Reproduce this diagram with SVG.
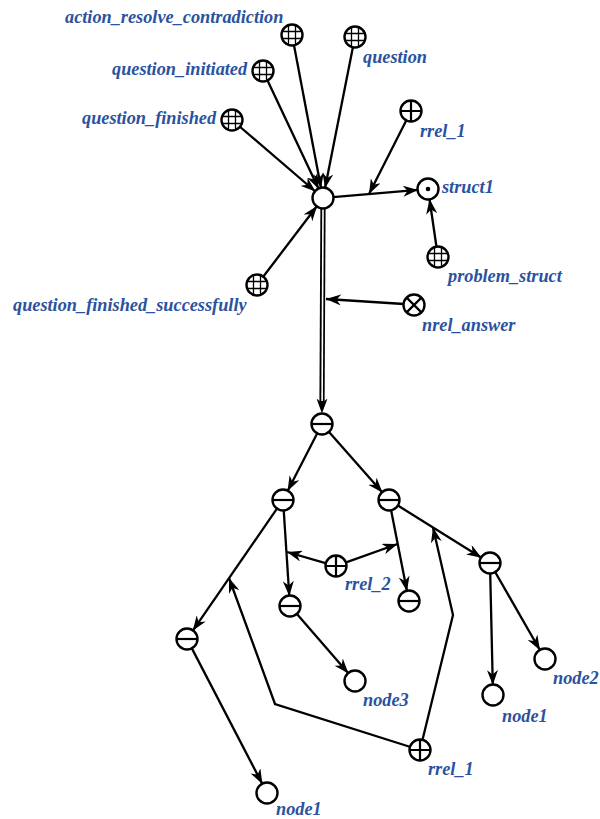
<svg xmlns="http://www.w3.org/2000/svg" width="600" height="819" viewBox="0 0 600 819">
<defs>
<marker id="arr" markerUnits="userSpaceOnUse" markerWidth="15" markerHeight="11" viewBox="0 0 15 11" refX="15" refY="5.5" orient="auto"><path d="M0,0 L15,5.5 L0,11 L4.5,5.5 z" fill="#000"/></marker>
<marker id="arrD" markerUnits="userSpaceOnUse" markerWidth="15" markerHeight="11" viewBox="0 0 15 11" refX="4.5" refY="5.5" orient="auto"><path d="M0,0 L15,5.5 L0,11 L4.5,5.5 z" fill="#000"/></marker>
<g id="grid"><circle r="10.5" class="nd"/><path d="M-3.5,-9.8 V9.8 M3.5,-9.8 V9.8 M-9.8,-3.5 H9.8 M-9.8,3.5 H9.8" class="in"/></g>
<g id="plus"><circle r="10.5" class="nd"/><path d="M0,-10.5 V10.5 M-10.5,0 H10.5" class="in2"/></g>
<g id="minus"><circle r="10.5" class="nd"/><path d="M-10.5,0 H10.5" class="in2"/></g>
<g id="cross"><circle r="10.5" class="nd"/><path d="M-7.4,-7.4 L7.4,7.4 M7.4,-7.4 L-7.4,7.4" class="in2"/></g>
<g id="dot"><circle r="10.5" class="nd"/><circle r="2.3" fill="#000"/></g>
<g id="plain"><circle r="10.5" class="nd"/></g>
</defs>
<style>
.nd{fill:#fff;stroke:#000;stroke-width:2.4}
.in{fill:none;stroke:#000;stroke-width:1.3}
.in2{fill:none;stroke:#000;stroke-width:2.2}
.e{fill:none;stroke:#000;stroke-width:2.3;marker-end:url(#arr)}
.lbl{font-family:"Liberation Serif",serif;font-style:italic;font-weight:bold;font-size:18.3px;fill:#2a52a0}
</style>
<rect width="600" height="819" fill="#fff"/>
<g id="connectors">
<line class="e" x1="239.6" y1="126.5" x2="315.4" y2="191.5"/>
<line class="e" x1="267.3" y1="80" x2="318.7" y2="189"/>
<line class="e" x1="293.9" y1="44.8" x2="321.1" y2="188.2"/>
<line class="e" x1="353" y1="46.8" x2="325" y2="188.2"/>
<line class="e" x1="263" y1="277" x2="317" y2="206"/>
<line class="e" x1="333" y1="197.1" x2="418" y2="189.9"/>
<line class="e" x1="406.5" y1="120" x2="369" y2="194"/>
<line class="e" x1="436.5" y1="247" x2="429.5" y2="199"/>
<line x1="323" y1="208" x2="322" y2="403" stroke="#000" stroke-width="5.2" marker-end="url(#arrD)"/>
<line x1="323" y1="208" x2="322.1" y2="401" stroke="#fff" stroke-width="1.6"/>
<line class="e" x1="404" y1="304" x2="326" y2="299"/>
<line class="e" x1="317.4" y1="433" x2="287.6" y2="491"/>
<line class="e" x1="328.6" y1="431.5" x2="382.4" y2="492.5"/>
<line class="e" x1="277.3" y1="508.2" x2="192.7" y2="630.8"/>
<line class="e" x1="283.7" y1="510" x2="289.3" y2="596"/>
<line class="e" x1="391" y1="509.8" x2="407" y2="591.2"/>
<line class="e" x1="397.5" y1="505.3" x2="481.5" y2="557.7"/>
<line class="e" x1="326.4" y1="563.3" x2="287" y2="552"/>
<line class="e" x1="345.4" y1="562.6" x2="397.5" y2="544"/>
<line class="e" x1="296.5" y1="613.6" x2="348.5" y2="673.4"/>
<line class="e" x1="191.6" y1="647.9" x2="262.4" y2="784.1"/>
<line class="e" x1="490.2" y1="573" x2="492.8" y2="685"/>
<line class="e" x1="495" y1="571.7" x2="540" y2="650.3"/>
<polyline class="e" points="410.5,747 275,704 229,578"/>
<polyline class="e" points="422.4,740.3 453,615 433,527.5"/>
</g>
<g id="n_action"><use href="#grid" x="292" y="35"/><text class="lbl" x="65" y="23">action_resolve_contradiction</text></g>
<g id="n_qinit"><use href="#grid" x="263" y="71"/><text class="lbl" x="112" y="75">question_initiated</text></g>
<g id="n_qfin"><use href="#grid" x="232" y="120"/><text class="lbl" x="82" y="124">question_finished</text></g>
<g id="n_question"><use href="#grid" x="355" y="37"/><text class="lbl" x="363" y="63">question</text></g>
<g id="n_rrel1a"><use href="#plus" x="411" y="111"/><text class="lbl" x="420" y="137">rrel_1</text></g>
<g id="n_center"><use href="#plain" x="323" y="198"/></g>
<g id="n_struct1"><use href="#dot" x="428" y="189"/><text class="lbl" x="442" y="193">struct1</text></g>
<g id="n_pstruct"><use href="#grid" x="438" y="257"/><text class="lbl" x="448" y="282">problem_struct</text></g>
<g id="n_qfs"><use href="#grid" x="257" y="285"/><text class="lbl" x="13" y="311">question_finished_successfully</text></g>
<g id="n_nrel"><use href="#cross" x="414" y="305"/><text class="lbl" x="422" y="331">nrel_answer</text></g>
<g id="n_t0"><use href="#minus" x="322" y="424"/></g>
<g id="n_t1"><use href="#minus" x="283" y="500"/></g>
<g id="n_t2"><use href="#minus" x="389" y="500"/></g>
<g id="n_rrel2"><use href="#plus" x="336" y="566"/><text class="lbl" x="345" y="590">rrel_2</text></g>
<g id="n_t3"><use href="#minus" x="290" y="606"/></g>
<g id="n_t4"><use href="#minus" x="409" y="601"/></g>
<g id="n_t5"><use href="#minus" x="187" y="639"/></g>
<g id="n_t6"><use href="#minus" x="490" y="563"/></g>
<g id="n_node3"><use href="#plain" x="355" y="681"/><text class="lbl" x="363" y="706">node3</text></g>
<g id="n_rrel1b"><use href="#plus" x="420" y="750"/><text class="lbl" x="428" y="775">rrel_1</text></g>
<g id="n_node1a"><use href="#plain" x="267" y="793"/><text class="lbl" x="276" y="815">node1</text></g>
<g id="n_node1b"><use href="#plain" x="493" y="695"/><text class="lbl" x="502" y="722">node1</text></g>
<g id="n_node2"><use href="#plain" x="545" y="659"/><text class="lbl" x="553" y="684">node2</text></g>
</svg>
